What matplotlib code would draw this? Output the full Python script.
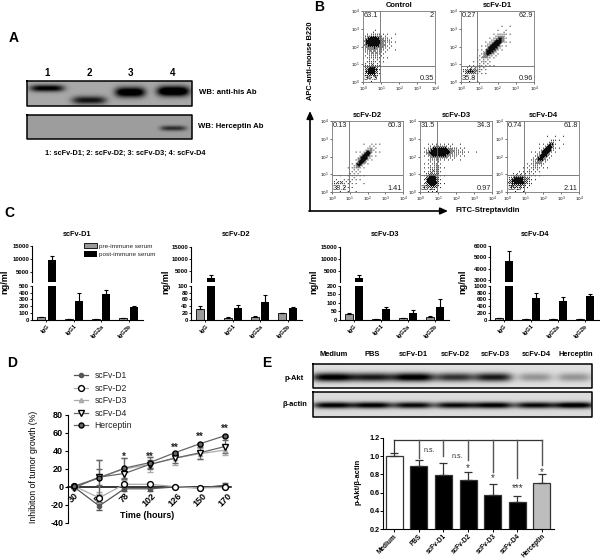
import numpy as np
import matplotlib
matplotlib.use('Agg')
import matplotlib.pyplot as plt
from matplotlib.patches import Patch
from matplotlib.lines import Line2D

plt.rcParams['font.family'] = ['Liberation Sans', 'DejaVu Sans']
plt.rcParams['axes.linewidth'] = 0.8

W, H = 600, 559

# Panel A blots: lane centre, band height, half width, darkness
a_lanes = ['1', '2', '3', '4']
a_lane_x = [47, 89, 130, 173]
his_y = [88, 100, 92, 91]
his_hw = [17, 17, 15, 16]
his_hh = [3.4, 4.0, 5.0, 5.0]
his_dark = [0.7, 0.6, 0.85, 0.95]
herc_y = [128, 128, 128, 128]
herc_dark = [0.0, 0.0, 0.0, 0.45]

# Panel B flow plots: quadrant percentages (UL, UR, LL, LR)
flow_names = ['Control', 'scFv-D1', 'scFv-D2', 'scFv-D3', 'scFv-D4']
flow_quads = [['63.1', '2', '34.5', '0.35'],
              ['0.27', '62.9', '35.8', '0.96'],
              ['0.13', '60.3', '38.2', '1.41'],
              ['31.5', '34.3', '33.2', '0.97'],
              ['0.74', '61.8', '35.3', '2.11']]
# populations in decades: cx, cy, sx, sy, rho, density
flow_pops = [[(0.55, 2.3, 0.24, 0.16, 0.0, 2.2), (0.6, 2.1, 0.45, 0.35, 0.0, 0.5), (0.45, 0.6, 0.2, 0.16, 0.0, 1.6),
              (0.5, 1.2, 0.3, 0.5, 0.0, 0.2), (1.2, 2.3, 0.4, 0.2, 0.0, 0.12)],
             [(1.8, 2.0, 0.26, 0.3, 0.85, 2.4), (1.8, 2.0, 0.45, 0.5, 0.7, 0.3), (0.5, 0.6, 0.26, 0.1, 0.0, 0.7),
              (1.0, 0.8, 0.4, 0.4, 0.5, 0.12)],
             [(1.8, 1.9, 0.22, 0.27, 0.85, 2.4), (1.8, 1.9, 0.4, 0.45, 0.7, 0.25), (0.35, 0.5, 0.22, 0.08, 0.0, 0.3),
              (1.1, 0.6, 0.4, 0.4, 0.3, 0.1)],
             [(1.05, 2.25, 0.32, 0.16, 0.0, 2.4), (1.5, 2.25, 0.6, 0.2, 0.0, 0.4), (0.65, 0.6, 0.2, 0.22, 0.0, 1.6),
              (0.8, 1.3, 0.3, 0.6, 0.0, 0.25)],
             [(2.15, 2.25, 0.22, 0.28, 0.85, 2.4), (2.0, 2.05, 0.45, 0.5, 0.7, 0.3), (0.6, 0.6, 0.32, 0.2, 0.0, 1.3),
              (1.2, 1.0, 0.4, 0.4, 0.5, 0.12)]]
flow_ticks = ['$10^{0}$', '$10^{1}$', '$10^{2}$', '$10^{3}$', '$10^{4}$']

# Panel C ELISA titres
iso_names = ['IgG', 'IgG1', 'IgG2a', 'IgG2b']
d1_pre = [35, 5, 8, 18]
d1_pre_err = [8, 1, 1, 2]
d1_post = [9500, 275, 380, 190]
d1_post_err = [1500, 115, 60, 5]
d2_pre = [30, 5, 7, 18]
d2_pre_err = [10, 1, 2, 1]
d2_post = [2000, 35, 52, 33]
d2_post_err = [1300, 9, 22, 4]
d3_pre = [30, 4, 6, 17]
d3_pre_err = [8, 1, 2, 3]
d3_post = [2000, 65, 38, 75]
d3_post_err = [1000, 9, 18, 48]
d4_pre = [40, 8, 10, 20]
d4_pre_err = [10, 2, 2, 2]
d4_post = [4700, 650, 560, 690]
d4_post_err = [900, 150, 100, 80]

# Panel D tumour growth inhibition
hours = ['30', '50', '78', '102', '126', '150', '170']
inh_d1 = [0, -21, -2, -2, 0, -1, 2]
inh_d1_err = [0, 4, 2, 2, 1, 1, 2]
inh_d2 = [1, -12, 3, 3, 0.5, -1, -0.5]
inh_d2_err = [0, 6, 1, 1, 1, 1, 1]
inh_d3 = [-1, 11, 20, 25, 32, 37, 41]
inh_d3_err = [0, 19, 12, 8, 7, 6, 5]
inh_d4 = [-1, 11, 15, 25, 32, 38, 45]
inh_d4_err = [0, 9, 6, 5, 5, 7, 7]
inh_herc = [1, 10, 21, 27, 38, 48, 57]
inh_herc_err = [0, 20, 11, 6, 1, 1, 1]
d_stars = ['', '', '*', '**', '**', '**', '**']
d_star_y = [0, 0, 33, 33, 44, 56, 65]

# Panel E p-Akt blots and quantification
e_names = ['Medium', 'PBS', 'scFv-D1', 'scFv-D2', 'scFv-D3', 'scFv-D4', 'Herceptin']
e_lane_x = [333, 372, 413, 455, 493, 535, 574]
pakt_dark = [0.95, 0.8, 0.95, 0.7, 0.8, 0.3, 0.3]
actin_dark = [0.9, 0.9, 0.85, 0.85, 0.9, 0.85, 0.95]
ratio = [1.0, 0.89, 0.79, 0.74, 0.57, 0.50, 0.71]
ratio_err = [0.03, 0.07, 0.13, 0.09, 0.12, 0.06, 0.09]
ratio_colors = ['white', 'black', 'black', 'black', 'black', 'black', '#bdbdbd']
bracket_end = [0.98, 1.0, 0.96, 0.83, 0.76, 0.9]
sig_text = ['n.s.', 'n.s.', '*', '*', '***', '*']
sig_y = [1.06, 1.0, 0.87, 0.76, 0.65, 0.83]


def axpx(x0, y0, x1, y1, **kw):
    # axes from pixel box of the reference (y goes down)
    return fig.add_axes([x0 / W, 1 - y1 / H, (x1 - x0) / W, (y1 - y0) / H], **kw)


def blot(x0, y0, x1, y1, bg, xs, ys, hw, hh, dark):
    xx, yy = np.meshgrid(np.arange(x0, x1, 0.5), np.arange(y0, y1, 0.5))
    img = np.full(xx.shape, float(bg))
    for cx, cy, w, h, d in zip(xs, ys, hw, hh, dark):
        img -= d * np.exp(-((xx - cx) / w) ** 4 - ((yy - cy) / h) ** 2)
    over.imshow(img, extent=(x0, x1, y1, y0), cmap='gray', vmin=0, vmax=1, aspect='auto', zorder=1)
    over.plot([x0, x1, x1, x0, x0], [y0, y0, y1, y1, y0], color='black', lw=1.1, zorder=2)


fig = plt.figure(figsize=(6, 5.59), dpi=100, facecolor='white')
over = axpx(0, 0, W, H, zorder=5)
over.patch.set_alpha(0)
over.axis('off')

# --- panel A
blot(27, 81, 192, 106, 0.66, a_lane_x, his_y, his_hw, his_hh, his_dark)
blot(27, 115, 192, 139, 0.62, a_lane_x, herc_y, [13] * 4, [2.6] * 4, herc_dark)
for name, x in zip(a_lanes, a_lane_x):
    over.text(x, 73, name, fontsize=7, fontweight='bold', ha='center', va='center')
over.text(199, 93, 'WB: anti-his Ab', fontsize=5.6, fontweight='bold', va='center')
over.text(198, 127, 'WB: Herceptin Ab', fontsize=5.6, fontweight='bold', va='center')
over.text(45, 153, '1: scFv-D1; 2: scFv-D2; 3: scFv-D3; 4: scFv-D4', fontsize=5.2, fontweight='bold', va='center')

# --- panel B
flow_boxes = [(363, 11, 435, 82), (461, 11, 534, 82), (332, 121, 403, 192),
              (420, 121, 492, 192), (507, 121, 579, 192)]
flow_gates = [(0.95, 0.9), (0.9, 0.9), (0.95, 0.95), (0.95, 0.95), (0.95, 0.95)]
bayer = np.array([[0, 2], [3, 1]])
for _ in range(2):
    bayer = np.block([[4 * bayer, 4 * bayer + 2], [4 * bayer + 3, 4 * bayer + 1]])
bayer = (bayer + 0.5) / 64
for box, name, quads, pops, gate in zip(flow_boxes, flow_names, flow_quads, flow_pops, flow_gates):
    ax = axpx(*box)
    e = np.linspace(0, 4, 72)
    gx, gy = np.meshgrid(e, e)
    dens = np.zeros(gx.shape)
    for cx, cy, sx, sy, rho, amp in pops:
        u, v = (gx - cx) / sx, (gy - cy) / sy
        dens += amp * np.exp(-(u ** 2 - 2 * rho * u * v + v ** 2) / (2 * (1 - rho ** 2)))
    tile = np.tile(bayer, (9, 9))
    ax.imshow(1 - (dens > tile) * 0.95, extent=(0, 4, 0, 4), origin='lower', cmap='gray', vmin=0, vmax=1,
              aspect='auto', interpolation='bilinear')
    ax.axvline(gate[0], color='#666666', lw=0.6)
    ax.axhline(gate[1], color='#666666', lw=0.6)
    ax.set_xticks(range(5), flow_ticks, fontsize=3)
    ax.set_yticks(range(5), flow_ticks, fontsize=3)
    ax.tick_params(length=1.2, width=0.4, pad=0.8)
    for s in ax.spines.values():
        s.set_color('#777777')
        s.set_linewidth(0.6)
    ax.set_title(name, fontsize=5.4, fontweight='bold', pad=3, x=0.5)
    ax.text(0.06, 3.75, quads[0], fontsize=5.3, va='center', color='#222222')
    ax.text(3.94, 3.75, quads[1], fontsize=5.3, va='center', ha='right', color='#222222')
    ax.text(0.06, 0.22, quads[2], fontsize=5.3, va='center', color='#222222')
    ax.text(3.94, 0.22, quads[3], fontsize=5.3, va='center', ha='right', color='#222222')

over.annotate('', xy=(310, 111), xytext=(310, 211),
              arrowprops=dict(arrowstyle='-|>,head_width=0.2,head_length=0.45', color='black', lw=1.2, shrinkA=0, shrinkB=0))
over.annotate('', xy=(448, 211), xytext=(309, 211),
              arrowprops=dict(arrowstyle='-|>,head_width=0.2,head_length=0.45', color='black', lw=1.2, shrinkA=0, shrinkB=0))
over.text(310, 61, 'APC-anti-mouse B220', fontsize=5.4, fontweight='bold', rotation=90, ha='center', va='center')
over.text(456, 211, 'FITC-Streptavidin', fontsize=5.6, fontweight='bold', va='center')

# --- panel C
c_specs = [
    ('scFv-D1', d1_pre, d1_pre_err, d1_post, d1_post_err, 32, 143, (246, 282), (1150, 15000), [5000, 10000, 15000],
     (0, 500), [0, 100, 200, 300, 400, 500], 5, 77),
    ('scFv-D2', d2_pre, d2_pre_err, d2_post, d2_post_err, 191, 302, (247, 282), (400, 15000), [5000, 10000, 15000],
     (0, 100), [0, 20, 40, 60, 80, 100], 166, 236),
    ('scFv-D3', d3_pre, d3_pre_err, d3_post, d3_post_err, 340, 449, (247, 282), (200, 15000), [5000, 10000, 15000],
     (0, 200), [0, 50, 100, 150, 200], 314, 385),
    ('scFv-D4', d4_pre, d4_pre_err, d4_post, d4_post_err, 490, 599, (246, 282), (2820, 6000), [3000, 4000, 5000, 6000],
     (0, 1000), [0, 200, 400, 600, 800, 1000], 463, 535),
]
pos = np.arange(len(iso_names))
for title, pre, pre_e, post, post_e, x0, x1, up, up_lim, up_ticks, lo_lim, lo_ticks, yl_x, tx in c_specs:
    upper = axpx(x0, up[0], x1, up[1])
    lower = axpx(x0, 286, x1, 319.5)
    lower.bar(pos - 0.19, pre, 0.29, color='#9a9a9a', edgecolor='black', lw=0.6,
              yerr=[np.zeros(4), pre_e], error_kw=dict(lw=0.8, capsize=1.5, capthick=0.8))
    lower.bar(pos + 0.19, post, 0.29, color='black',
              yerr=[np.zeros(4), post_e], error_kw=dict(lw=0.8, capsize=1.5, capthick=0.8))
    # only the IgG bar rises into the upper segment of the broken axis
    upper.bar(pos[:1] + 0.19, post[:1], 0.29, color='black',
              yerr=[[0], post_e[:1]], error_kw=dict(lw=0.8, capsize=1.5, capthick=0.8))
    for ax in (upper, lower):
        ax.set_xlim(-0.53, 3.53)
        ax.spines[['top', 'right']].set_visible(False)
        ax.tick_params(axis='y', length=1.5, width=0.6, pad=0.6)
    upper.set_ylim(*up_lim)
    upper.set_yticks(up_ticks, [str(t) for t in up_ticks], fontsize=4.3, fontweight='bold')
    upper.set_xticks([])
    upper.spines['bottom'].set_visible(False)
    upper.patch.set_alpha(0)
    lower.set_ylim(*lo_lim)
    lower.set_yticks(lo_ticks, [str(t) for t in lo_ticks], fontsize=4.3, fontweight='bold')
    lower.set_xticks(pos, iso_names, rotation=45, ha='right', rotation_mode='anchor', fontsize=4.2, fontweight='bold')
    lower.tick_params(axis='x', length=1.5, width=0.6, pad=1.5)
    over.text(yl_x, 282, 'ng/ml', fontsize=6.6, fontweight='bold', rotation=90, ha='center', va='center')
    over.text(tx, 234, title, fontsize=5.3, fontweight='bold', ha='center', va='center')

c_handles = [Patch(facecolor='#9a9a9a', edgecolor='black', lw=0.6, label='pre-immune serum'),
             Patch(facecolor='black', label='post-immune serum')]
fig.legend(handles=c_handles, loc='upper left', bbox_to_anchor=(84 / W, 1 - 243 / H), frameon=False,
           fontsize=4.6, handlelength=2.0, handleheight=0.9, handletextpad=0.4, labelspacing=0.4,
           borderpad=0, borderaxespad=0, labelcolor='#222222')

# --- panel D
ax = axpx(68, 415, 231, 523)
ax.patch.set_alpha(0)
x = np.arange(len(hours))
d_series = [('scFv-D1', inh_d1, inh_d1_err, 'o', '#555555', '#555555', '#555555', 3),
            ('scFv-D2', inh_d2, inh_d2_err, 'o', 'white', 'black', '#aaaaaa', 4.2),
            ('scFv-D3', inh_d3, inh_d3_err, '^', '#aaaaaa', '#aaaaaa', '#aaaaaa', 3),
            ('scFv-D4', inh_d4, inh_d4_err, 'v', 'white', 'black', '#666666', 4),
            ('Herceptin', inh_herc, inh_herc_err, 'o', '#666666', 'black', '#666666', 3.6)]
d_handles = []
for name, vals, err, mk, face, edge, line, ms in d_series:
    ax.errorbar(x, vals, yerr=err, color=line, lw=0.9, elinewidth=0.9, capsize=2, capthick=0.8,
                marker=mk, ms=ms, mfc=face, mec=edge, mew=1.0, clip_on=False, zorder=3)
    d_handles.append(Line2D([], [], color=line, lw=0.9, marker=mk, ms=ms, mfc=face, mec=edge, mew=1.0, label=name))
ax.set_xlim(-0.24, 6.24)
ax.set_ylim(-40, 80)
for xi, s, y in zip(x, d_stars, d_star_y):
    if s:
        ax.text(xi, y, s, fontsize=7, fontweight='bold', ha='center', va='center', color='#222222')
ax.spines[['top', 'right']].set_visible(False)
ax.spines['bottom'].set_position(('data', 0))
ax.spines['bottom'].set_linewidth(1.1)
ax.set_xticks(x, hours, rotation=45, fontsize=6.5, fontweight='bold')
ax.set_yticks(range(-40, 81, 20), [str(t) for t in range(-40, 81, 20)], fontsize=6.5, fontweight='bold')
ax.tick_params(axis='y', length=2.5, width=0.8, pad=1)
ax.tick_params(axis='x', length=2, width=0.8, pad=1)
over.text(33, 467, 'Inhibiton of tumor growth (%)', fontsize=6.3, rotation=90, ha='center', va='center')
over.text(147, 516, 'Time (hours)', fontsize=6.4, fontweight='bold', ha='center', va='center')
fig.legend(handles=d_handles, loc='upper left', bbox_to_anchor=(74 / W, 1 - 371 / H), frameon=False,
           fontsize=6.2, handlelength=1.6, handletextpad=0.8, labelspacing=0.42,
           borderpad=0, borderaxespad=0, labelcolor='#222222')

# --- panel E
blot(313, 364, 592, 388, 0.88, e_lane_x, [377] * 7, [21, 20, 22, 19, 19, 17, 17], [4.4] * 7, pakt_dark)
blot(313, 392, 592, 417, 0.86, e_lane_x, [405] * 7, [20] * 7, [3.2] * 7, actin_dark)
for name, xt in zip(e_names, [334, 372, 413, 455, 495, 536, 576]):
    over.text(xt, 355, name, fontsize=5.4, fontweight='bold', ha='center', va='center')
over.text(304, 378, 'p-Akt', fontsize=5.4, fontweight='bold', ha='right', va='center')
over.text(307, 404, 'β-actin', fontsize=5.4, fontweight='bold', ha='right', va='center')

ax = axpx(383, 438, 554, 529)
ax.patch.set_alpha(0)
e_pos = np.arange(len(e_names))
ax.bar(e_pos, ratio, 0.69, color=ratio_colors, edgecolor='#333333', lw=0.9,
       yerr=[np.zeros(7), ratio_err], error_kw=dict(lw=0.9, ecolor='#333333', capsize=3, capthick=0.9))
ax.set_xlim(-0.45, 6.49)
ax.set_ylim(0.2, 1.2)
ax.plot([0, 6], [1.18, 1.18], color='#333333', lw=0.9)
ax.plot([0, 0], [1.18, 1.04], color='#333333', lw=0.9)
for xi, end in zip(e_pos[1:], bracket_end):
    ax.plot([xi, xi], [1.18, end], color='#555555', lw=1.0)
for xi, s, y in zip([1.45, 2.55, 3, 4, 5, 6], sig_text, sig_y):
    is_star = s != 'n.s.'
    ax.text(xi, y, s, fontsize=7 if is_star else 5, ha='center', va='center', color='#333333')
ax.spines[['top', 'right']].set_visible(False)
ax.set_yticks([0.2, 0.4, 0.6, 0.8, 1.0, 1.2], ['0.2', '0.4', '0.6', '0.8', '1.0', '1.2'], fontsize=5.2, fontweight='bold')
ax.set_xticks(e_pos, e_names, rotation=45, ha='right', rotation_mode='anchor', fontsize=4.7, fontweight='bold')
ax.tick_params(length=2, width=0.7, pad=0.6)
over.text(358, 482, 'p-Akt/β-actin', fontsize=5.4, fontweight='bold', rotation=90, ha='center', va='center')

# --- panel letters
for s, lx, ly in [('A', 14, 38), ('B', 319, 7), ('C', 9, 213), ('D', 12, 363), ('E', 267, 363)]:
    over.text(lx, ly, s, fontsize=10, fontweight='bold', ha='center', va='center')

over.set_xlim(0, W)
over.set_ylim(H, 0)
fig.savefig('out.png', dpi=100)
